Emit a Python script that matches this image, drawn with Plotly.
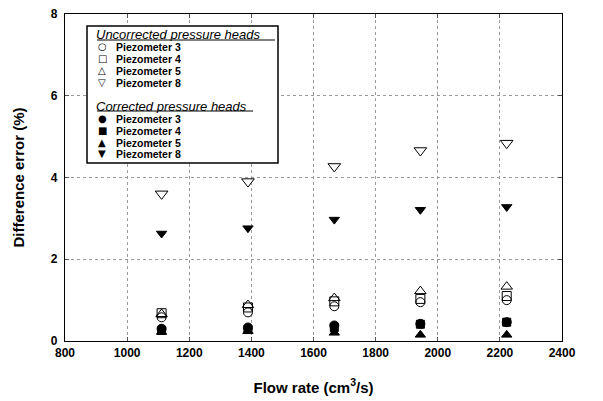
import plotly.graph_objects as go

# ---- data ----
flow_rate = [1111, 1389, 1667, 1944, 2222]

unc_p3 = [0.58, 0.70, 0.85, 0.95, 1.00]
unc_p4 = [0.68, 0.82, 0.97, 1.03, 1.10]
unc_p5 = [0.66, 0.88, 1.05, 1.22, 1.33]
unc_p8 = [3.60, 3.90, 4.27, 4.66, 4.84]

cor_p3 = [0.30, 0.33, 0.38, 0.42, 0.46]
cor_p4 = [0.26, 0.28, 0.33, 0.41, 0.46]
cor_p5 = [0.22, 0.24, 0.20, 0.15, 0.15]
cor_p8 = [2.63, 2.76, 2.97, 3.21, 3.28]

x_ticks = [800, 1000, 1200, 1400, 1600, 1800, 2000, 2200, 2400]
y_ticks = [0, 2, 4, 6, 8]

legend_labels = ["Piezometer 3", "Piezometer 4", "Piezometer 5", "Piezometer 8"]
legend_open = ["○", "□", "△", "▽"]
legend_filled = ["●", "■", "▲", "▼"]

# ---- layout geometry (page pixels; page body has an 8px default margin) ----
OFF = 8
W, H = 603, 401
L, R, T, B = 65, 41, 14, 60          # plot area edges in page pixels
PW, PH = W - L - R, H - T - B


def px(x):
    return (x - L) / PW


def py(y):
    return (H - B - y) / PH


fig = go.Figure()

series = [
    (unc_p3, "circle-open", 9),
    (unc_p4, "square-open", 9),
    (unc_p5, "triangle-up-open", 10),
    (unc_p8, "triangle-down-open", 11),
    (cor_p3, "circle", 9),
    (cor_p4, "square", 8),
    (cor_p5, "triangle-up", 9),
    (cor_p8, "triangle-down", 9),
]
for vals, sym, size in series:
    fig.add_trace(go.Scatter(
        x=flow_rate, y=vals, mode="markers",
        marker=dict(symbol=sym, size=size, color="black",
                    line=dict(color="black", width=1)),
        showlegend=False, cliponaxis=False,
    ))

axis_common = dict(
    automargin=False,
    ticklabeloverflow="allow",
    showline=True, linecolor="black", linewidth=1.2, mirror="ticks",
    ticks="inside", ticklen=4, tickcolor="#555", tickwidth=1,
    showgrid=True, gridcolor="#9a9a9a", griddash="dot", gridwidth=1,
    zeroline=False,
    tickfont=dict(family="Liberation Sans, Arial", size=12, color="black", weight="bold"),
)

fig.update_xaxes(
    range=[800, 2400], tickvals=x_ticks, ticktext=[str(v) for v in x_ticks],
    title=dict(text="Flow rate (cm<sup>3</sup>/s)", standoff=23,
               font=dict(family="Liberation Sans, Arial", size=15, color="black", weight="bold")),
    **axis_common,
)
fig.update_yaxes(
    range=[0, 8], tickvals=y_ticks, ticktext=[str(v) for v in y_ticks],
    ticklabelstandoff=4,
    title=dict(text="Difference error (%)", standoff=22,
               font=dict(family="Liberation Sans, Arial", size=15, color="black", weight="bold")),
    **axis_common,
)

shapes = [
    dict(type="rect", xref="paper", yref="paper",
         x0=px(87), x1=px(278), y0=py(163), y1=py(26),
         line=dict(color="black", width=1.5), fillcolor="white", layer="above"),
    dict(type="line", xref="paper", yref="paper",
         x0=px(97), x1=px(275), y0=py(40), y1=py(40),
         line=dict(color="black", width=1), layer="above"),
    dict(type="line", xref="paper", yref="paper",
         x0=px(97), x1=px(253), y0=py(111), y1=py(111),
         line=dict(color="black", width=1), layer="above"),
]

annotations = []
head_font = dict(family="Liberation Sans, Arial", size=13, color="black", style="italic")
item_font = dict(family="Liberation Sans, Arial", size=10.5, color="black", weight="bold")
sym_font = dict(family="DejaVu Sans", size=10, color="black")

for txt, yy in (("Uncorrected pressure heads", 34), ("Corrected pressure heads", 106)):
    annotations.append(dict(xref="paper", yref="paper", x=px(96), y=py(yy),
                            text=txt, showarrow=False, height=14,
                            borderwidth=0, borderpad=0,
                            xanchor="left", yanchor="middle", font=head_font))

rows_unc = [47, 59, 71, 82.5]
rows_cor = [119, 131, 142.5, 154]
for rows, syms in ((rows_unc, legend_open), (rows_cor, legend_filled)):
    for yy, s, lab in zip(rows, syms, legend_labels):
        annotations.append(dict(xref="paper", yref="paper", x=px(102), y=py(yy),
                                text=s, showarrow=False, xanchor="center",
                                height=11, borderwidth=0, borderpad=0,
                                yanchor="middle", font=sym_font))
        annotations.append(dict(xref="paper", yref="paper", x=px(116), y=py(yy),
                                text=lab, showarrow=False, xanchor="left",
                                height=11, borderwidth=0, borderpad=0,
                                yanchor="middle", font=item_font))

fig.update_layout(
    width=W - OFF, height=H - OFF,
    margin=dict(l=L - OFF, r=R, t=T - OFF, b=B),
    paper_bgcolor="white", plot_bgcolor="white",
    shapes=shapes, annotations=annotations,
    font=dict(family="Liberation Sans, Arial", color="black"),
)

fig.write_html("out.html")
